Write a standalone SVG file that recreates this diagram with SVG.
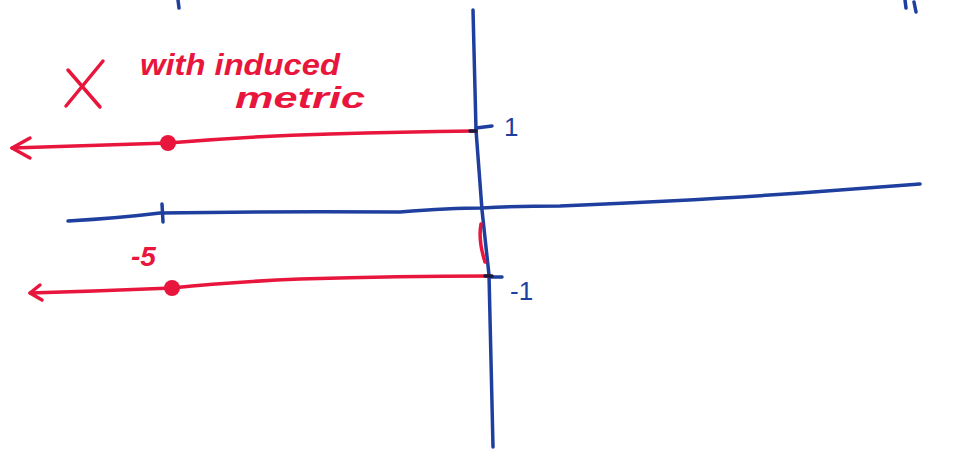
<svg xmlns="http://www.w3.org/2000/svg" width="977" height="450" viewBox="0 0 977 450">
<style>
.blue{stroke:#1f3f9f;stroke-width:3.5;fill:none;stroke-linecap:round;stroke-linejoin:round}
.red{stroke:#e8163c;stroke-width:3.5;fill:none;stroke-linecap:round;stroke-linejoin:round}
.blk{stroke:#1a1a3a;stroke-width:3.5;fill:none;stroke-linecap:round}
.rt{fill:#e8163c;font-family:"Liberation Sans",sans-serif}
.bt{fill:#1f3f9f;font-family:"Liberation Sans",sans-serif}
</style>
<rect width="977" height="450" fill="#ffffff"/>
<g id="fragments">
<path class="blue" d="M178 0 L179 8" stroke-width="5"/>
<path class="blue" d="M905 0 L906 8 M914 2 L916 12" stroke-width="4"/>
</g>
<g id="y-axis">
<path class="blue" d="M473 10 L476 130 L482 210 L489 275 L493 447"/>
<path class="blue" d="M476 128 L492 126"/>
<path class="blue" d="M490 277 L502 277"/>
<text class="bt" x="504" y="136" font-size="26">1</text>
<text class="bt" x="510" y="300" font-size="26">-1</text>
</g>
<g id="x-axis">
<path class="blue" d="M68 221 Q120 218 160 213 Q280 211 400 212 Q450 208 482 208 Q520 206 560 206 Q700 200 800 193 Q870 188 920 184"/>
<path class="blue" d="M162 204 L163 222"/>
<text class="rt" x="131" y="266" font-size="28" font-weight="bold" font-style="italic">-5</text>
</g>
<g id="upper-ray">
<path class="red" d="M474 131 Q400 132 330 134 Q250 136 168 143 Q100 145 12 148"/>
<path class="red" d="M30 138 L12 148 L30 158"/>
<circle cx="168" cy="143" r="8" fill="#e8163c"/>
<path class="blk" d="M470 131 L476 131"/>
</g>
<g id="lower-ray">
<path class="red" d="M489 276 Q400 276 300 279 Q230 282 172 288 Q100 291 30 293"/>
<path class="red" d="M40 285 L30 293 L42 300"/>
<circle cx="172" cy="288" r="8" fill="#e8163c"/>
<path class="red" d="M481 224 Q478 240 485 262" stroke-width="2.5"/>
<path class="blk" d="M485 276 L492 276"/>
</g>
<g id="label">
<path class="red" d="M68 70 L100 107 M103 61 L66 106"/>
<text class="rt" x="140" y="75" font-size="30" font-weight="bold" font-style="italic" textLength="200" lengthAdjust="spacingAndGlyphs">with induced</text>
<text class="rt" x="235" y="108" font-size="30" font-weight="bold" font-style="italic" textLength="130" lengthAdjust="spacingAndGlyphs">metric</text>
</g>
</svg>
